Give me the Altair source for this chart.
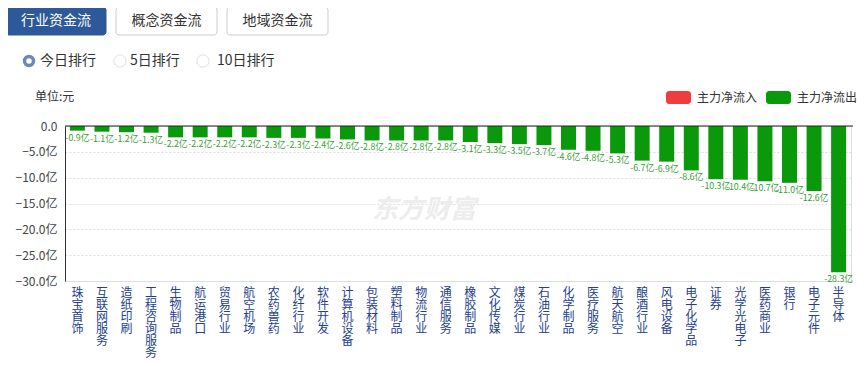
import altair as alt
import pandas as pd

categories = ["珠宝首饰", "互联网服务", "造纸印刷", "工程咨询服务", "生物制品", "航运港口",
              "贸易行业", "航空机场", "农药兽药", "化纤行业", "软件开发", "计算机设备",
              "包装材料", "塑料制品", "物流行业", "通信服务", "橡胶制品", "文化传媒",
              "煤炭行业", "石油行业", "化学制品", "医疗服务", "航天航空", "酿酒行业",
              "风电设备", "电子化学品", "证券", "光学光电子", "医药商业", "银行",
              "电子元件", "半导体"]
values = [-0.9, -1.1, -1.2, -1.3, -2.2, -2.2, -2.2, -2.2, -2.3, -2.3, -2.4, -2.6,
          -2.8, -2.8, -2.8, -2.8, -3.1, -3.3, -3.5, -3.7, -4.6, -4.8, -5.3, -6.7,
          -6.9, -8.6, -10.3, -10.4, -10.7, -11.0, -12.6, -28.3]
y_ticks = [0, -5, -10, -15, -20, -25, -30]
buttons = ["行业资金流", "概念资金流", "地域资金流"]
radios = ["今日排行", "5日排行", "10日排行"]
legend_labels = ["主力净流入", "主力净流出"]

FONT = "Noto Sans CJK SC"
W, H = 786, 155

df = pd.DataFrame({"cat": categories, "val": values})
df["label"] = [f"{v:.1f}亿" for v in values]

xenc = alt.X("cat:N", sort=categories, title=None,
             scale=alt.Scale(paddingInner=0.39, paddingOuter=0.2),
             axis=alt.Axis(labelAngle=0, labelExpr="split(datum.label, '')",
                           labelFont=FONT, labelFontSize=12, labelLineHeight=12,
                           labelColor="#23408e", domain=False, ticks=False,
                           labelOverlap=False,
                           labelPadding=6, labelBaseline="top", labelAlign="center"))
yaxis = alt.Axis(values=y_ticks, labelOverlap=False, tickCount=7,
                 labelExpr="datum.value == 0 ? '0.0' : format(datum.value, '.1f') + '亿'",
                 labelFont=FONT, labelFontSize=12, labelColor="#444444",
                 domain=True, domainColor="#333333", ticks=False, labelPadding=8,
                 grid=True, gridColor="#dddddd", gridDash=[2, 2])
yscale = alt.Scale(domain=[-30, 0], nice=False, zero=True)
yenc = alt.Y("val:Q", title=None, scale=yscale, axis=yaxis)

bars = alt.Chart(df).mark_bar(color="#0a990a").encode(x=xenc, y=yenc)
labels = alt.Chart(df).mark_text(font=FONT, fontSize=8.8, color="#3a9e3a",
                                 baseline="top", dy=3).encode(
    x=xenc, y=yenc, text="label:N")
zero = alt.Chart(alt.Data(values=[{"val": 0}])).mark_rule(color="#222222", strokeWidth=1).encode(
    y=yenc, x=alt.value(0), x2=alt.value(W + 2))

one = alt.Data(values=[{}])
layers = [bars, labels, zero]

# header buttons
bx = [(-59, 41), (51, 152), (162, 263)]
for i, (b, (x1, x2)) in enumerate(zip(buttons, bx)):
    active = i == 0
    layers.append(alt.Chart(one).mark_rect(
        cornerRadius=3, fill="#2d5899" if active else "#ffffff",
        stroke="#2d5899" if active else "#c9cdd4", strokeWidth=1).encode(
        x=alt.value(x1), x2=alt.value(x2), y=alt.value(-119), y2=alt.value(-91)))
    layers.append(alt.Chart(one).mark_text(
        font=FONT, fontSize=14, color="#ffffff" if active else "#333333",
        align="center", baseline="middle").encode(
        x=alt.value((x1 + x2) / 2), y=alt.value(-105), text=alt.value(b)))

# radios
rx = [(-36, -25), (55, 65), (138, 152)]
for i, (r, (cx, tx)) in enumerate(zip(radios, rx)):
    if i == 0:
        layers.append(alt.Chart(one).mark_point(
            shape="circle", filled=False, stroke="#2d5899", strokeWidth=3.5, size=80).encode(
            x=alt.value(cx), y=alt.value(-65)))
    else:
        layers.append(alt.Chart(one).mark_point(
            shape="circle", filled=False, stroke="#cfd3da", strokeWidth=1, size=150).encode(
            x=alt.value(cx), y=alt.value(-65)))
    layers.append(alt.Chart(one).mark_text(
        font=FONT, fontSize=14, color="#333333", align="left", baseline="middle").encode(
        x=alt.value(tx), y=alt.value(-65), text=alt.value(r)))

layers.append(alt.Chart(one).mark_text(
    font=FONT, fontSize=12, color="#333333", align="left", baseline="middle").encode(
    x=alt.value(-30), y=alt.value(-29), text=alt.value("单位:元")))

# legend
lg = [(601, "#f03c3c"), (701, "#0a990a")]
for lab, (lx, col) in zip(legend_labels, lg):
    layers.append(alt.Chart(one).mark_rect(cornerRadius=3, fill=col).encode(
        x=alt.value(lx), x2=alt.value(lx + 25), y=alt.value(-35), y2=alt.value(-22)))
    layers.append(alt.Chart(one).mark_text(
        font=FONT, fontSize=12, color="#333333", align="left", baseline="middle").encode(
        x=alt.value(lx + 31), y=alt.value(-28), text=alt.value(lab)))

# watermark
layers.append(alt.Chart(one).mark_text(
    font=FONT, fontSize=26, fontWeight="bold", fontStyle="italic", color="#ededed",
    align="left", baseline="middle").encode(
    x=alt.value(307), y=alt.value(84), text=alt.value("东方财富")))

chart = alt.layer(*layers).properties(
    width=W, height=H,
    autosize=alt.AutoSizeParams(type="none"),
    padding={"left": 57, "top": 118, "right": 9, "bottom": 80},
).configure_view(stroke=None).configure(background="#ffffff")

chart.save("out.html", embed_options={"renderer": "svg", "actions": False})
